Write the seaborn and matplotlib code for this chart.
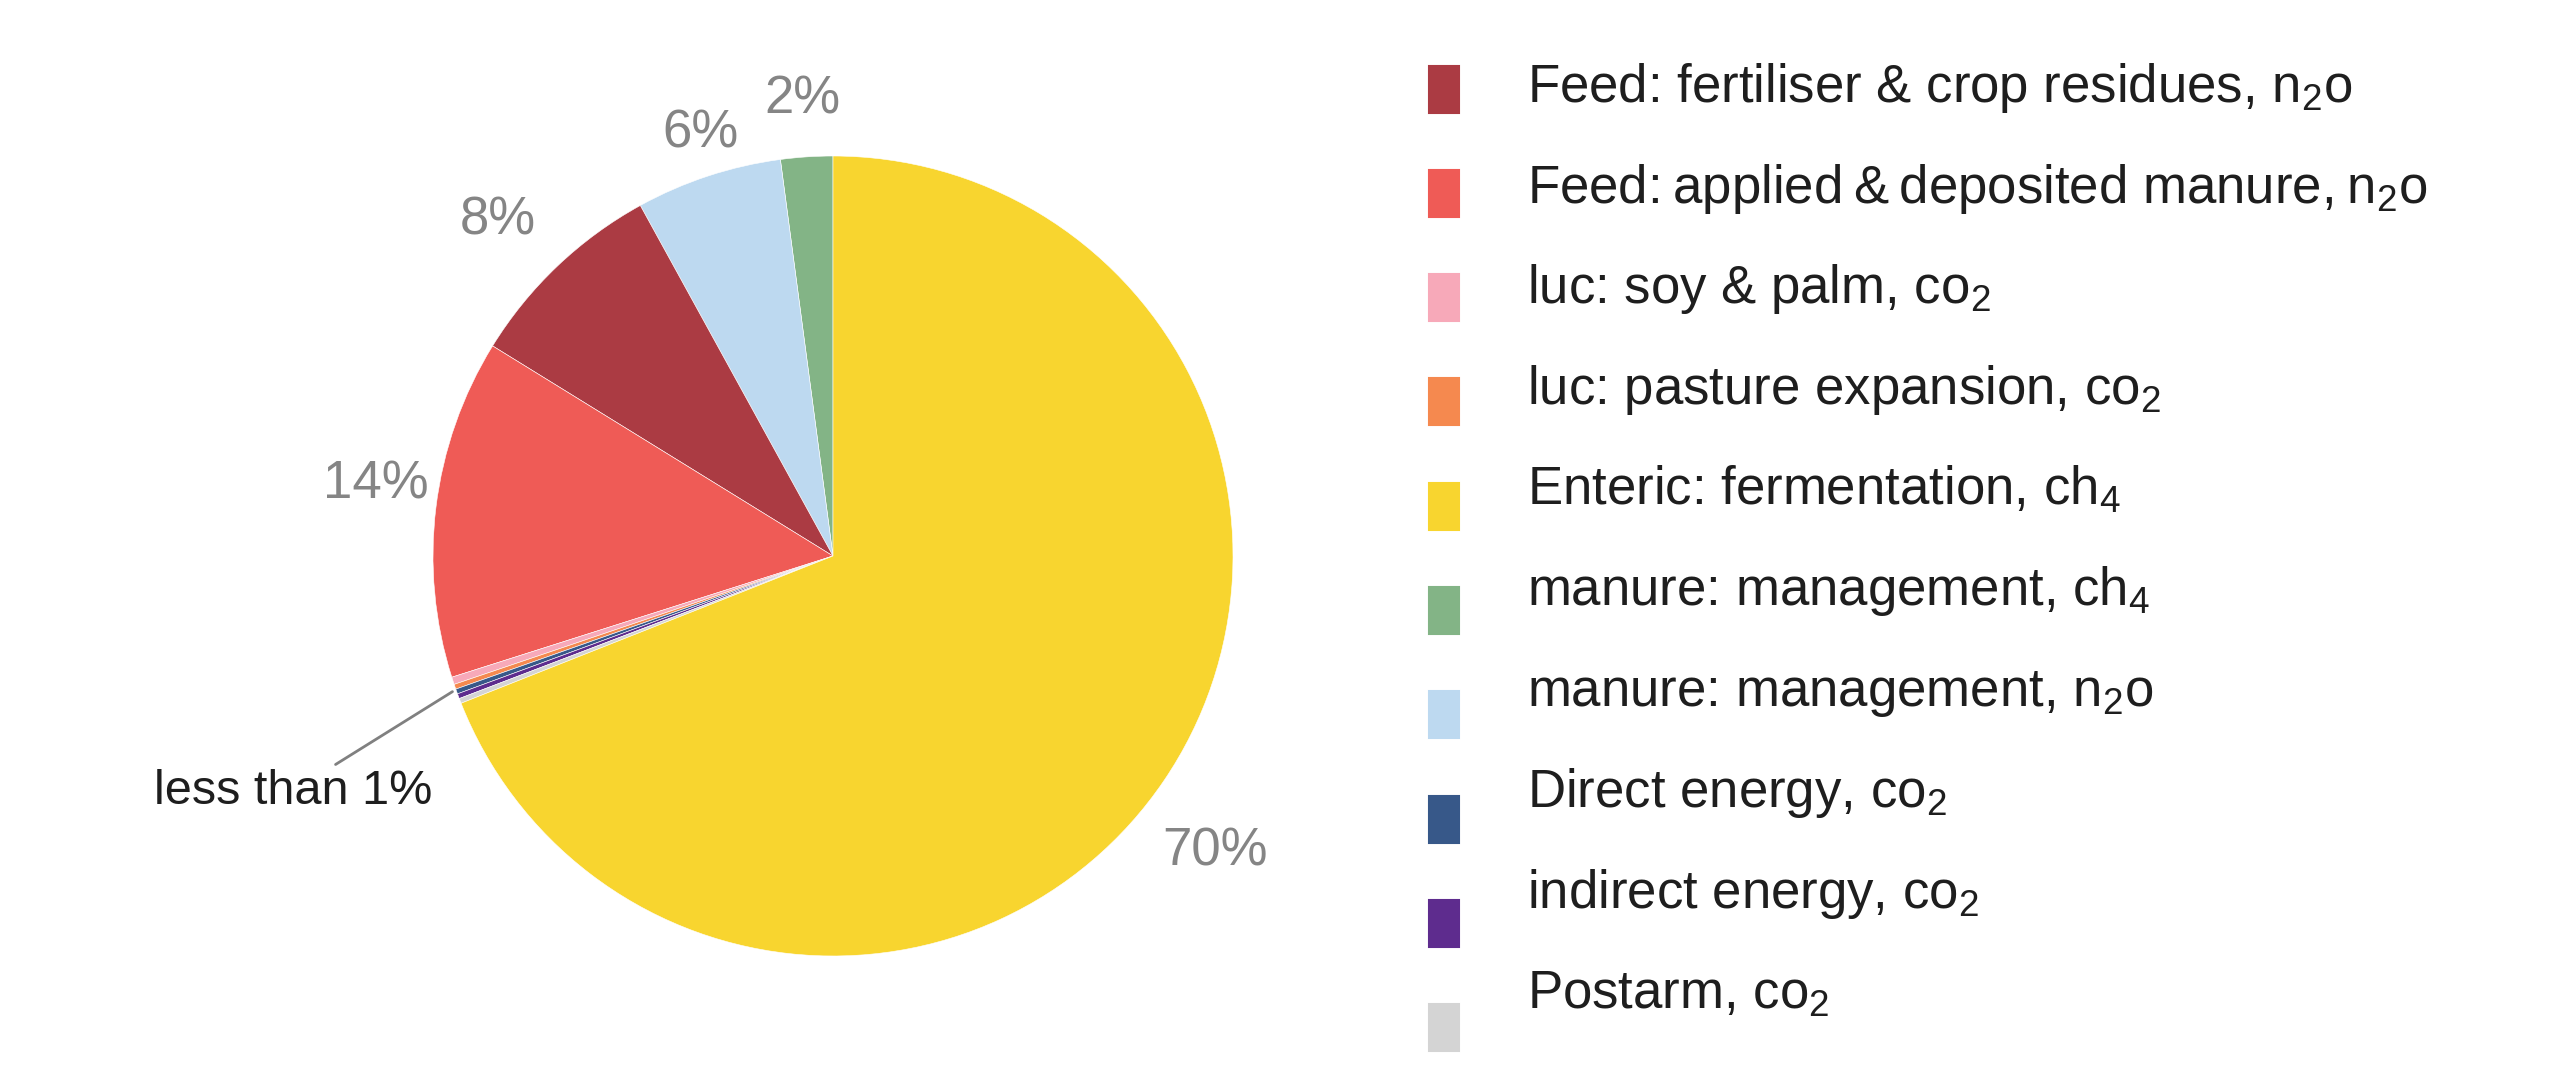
import matplotlib
matplotlib.use("Agg")
import matplotlib.pyplot as plt
from matplotlib.patches import Rectangle
import numpy as np
import seaborn as sns

# legend order
categories = [
    r"Feed: fertiliser & crop residues, n$_2$o",
    "Feed:\u2009applied\u2009&\u2009deposited manure,\u2009n$_2$o",
    r"luc: soy & palm, co$_2$",
    r"luc: pasture expansion, co$_2$",
    r"Enteric: fermentation, ch$_4$",
    r"manure: management, ch$_4$",
    r"manure: management, n$_2$o",
    r"Direct energy, co$_2$",
    r"indirect energy, co$_2$",
    r"Postarm, co$_2$",
]
shares = [8.2, 13.7, 0.3, 0.2, 69.0, 2.1, 5.9, 0.2, 0.2, 0.2]
pct_text = ["8%", "14%", "", "", "70%", "2%", "6%", "", "", ""]
colors = ["#ab3b43", "#ef5b56", "#f7a9b9", "#f5894f", "#f8d52f",
          "#83b486", "#bdd9f0", "#375889", "#5e2c8e", "#d4d4d4"]
# order of slices counter-clockwise from 12 o'clock
pie_order = [5, 6, 0, 1, 2, 3, 7, 8, 9, 4]
small_ones = [2, 3, 7, 8, 9]

# label placement tweaks (radius, angle shift in degrees)
label_pos = {"8%": (1.195, 1.0), "14%": (1.16, -2.5), "70%": (1.2, -3.0),
             "2%": (1.157, 0.0), "6%": (1.12, -1.0)}

sns.set_theme(style="white")
plt.rcParams["font.family"] = ["Liberation Sans", "DejaVu Sans"]
plt.rcParams["mathtext.default"] = "regular"

W, H = 2560, 1082
fig = plt.figure(figsize=(W / 100, H / 100), dpi=100)
ax = fig.add_axes([433 / W, 126 / H, 800 / W, 800 / H])

wedges, _ = ax.pie([shares[i] for i in pie_order],
                   colors=[colors[i] for i in pie_order],
                   startangle=90, counterclock=True,
                   wedgeprops=dict(edgecolor="white", linewidth=0.4))
ax.set_xlim(-1, 1)
ax.set_ylim(-1, 1)

# percentage labels
for w, idx in zip(wedges, pie_order):
    txt = pct_text[idx]
    if txt == "":
        continue
    r, shift = label_pos[txt]
    mid = np.deg2rad((w.theta1 + w.theta2) / 2 + shift)
    ax.text(r * np.cos(mid), r * np.sin(mid), txt,
            ha="center", va="center_baseline", fontsize=38, color="#858585")

# the tiny slices share one callout
small_w = [w for w, idx in zip(wedges, pie_order) if idx in small_ones]
a = np.deg2rad((small_w[0].theta1 + small_w[-1].theta2) / 2)
ax.annotate("less than 1%", xy=(1.01 * np.cos(a), 1.01 * np.sin(a)),
            xytext=(-1.35, -0.575), ha="center", va="center_baseline",
            fontsize=35, color="#1e1e1e",
            arrowprops=dict(arrowstyle="-", color="#808080", lw=2,
                            shrinkA=1, shrinkB=0))

# legend: swatches and labels drift apart slightly, as in the original
for i, (lab, c) in enumerate(zip(categories, colors)):
    sq_y = 89 + i * 104.3
    fig.add_artist(Rectangle((1429 / W, 1 - (sq_y + 23.5) / H), 30 / W, 47 / H,
                             transform=fig.transFigure, facecolor=c,
                             edgecolor=c, linewidth=1.5))
    base_y = 102 + i * 100.7
    fig.text(1527 / W, 1 - base_y / H, lab, ha="left", va="baseline",
             fontsize=38, color="#1e1e1e")

fig.savefig("out.png", dpi=100, facecolor="white")
